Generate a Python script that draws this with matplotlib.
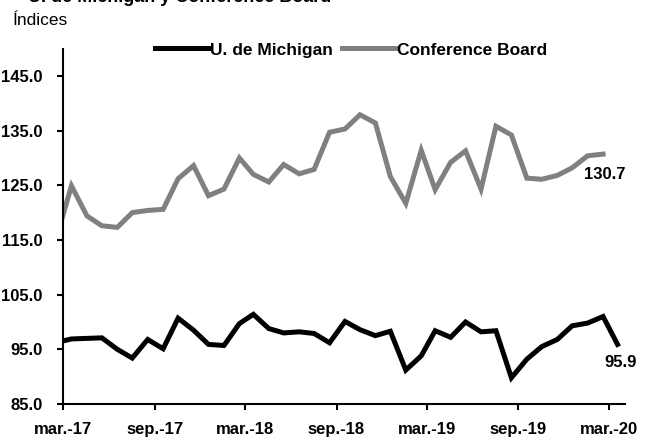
import matplotlib
matplotlib.use('Agg')
import matplotlib.pyplot as plt
import matplotlib.dates as mdates
import numpy as np
import pandas as pd

plt.rcParams['font.family'] = ['Liberation Sans', 'DejaVu Sans']

# Monthly data, feb-17 .. mar-20 (Conference Board ends feb-20)
months = pd.date_range('2017-02-01', '2020-03-01', freq='MS')
michigan = [96.3, 96.9, 97.0, 97.1, 95.0, 93.4, 96.8, 95.1, 100.7, 98.5, 95.9,
            95.7, 99.7, 101.4, 98.8, 98.0, 98.2, 97.9, 96.2, 100.1, 98.6, 97.5, 98.3,
            91.2, 93.8, 98.4, 97.2, 100.0, 98.2, 98.4, 89.8, 93.2, 95.5, 96.8, 99.3,
            99.8, 101.0, 95.9]
conference = [116.1, 124.9, 119.4, 117.6, 117.3, 120.0, 120.4, 120.6, 126.2, 128.6, 123.1,
              124.3, 130.0, 127.0, 125.6, 128.8, 127.1, 127.9, 134.7, 135.3, 137.9, 136.4, 126.6,
              121.7, 131.4, 124.2, 129.2, 131.3, 124.3, 135.8, 134.2, 126.3, 126.1, 126.8, 128.2,
              130.4, 130.7]
tick_dates = pd.date_range('2017-03-01', '2020-03-01', freq='6MS')
tick_labels = ['mar.-17', 'sep.-17', 'mar.-18', 'sep.-18', 'mar.-19', 'sep.-19', 'mar.-20']
yticks = [85, 95, 105, 115, 125, 135, 145]

# points sit mid-month, ticks at month start
x = months + pd.Timedelta(days=17)

fig = plt.figure(figsize=(6.61, 4.40), dpi=100, facecolor='white')
ax = fig.add_axes([63/661, 1-404/440, (625-63)/661, (404-48.6)/440])

ax.plot(x, michigan, color='black', lw=3.6, label='U. de Michigan', solid_joinstyle='miter')
ax.plot(x[:len(conference)], conference, color='#808080', lw=3.6,
        label='Conference Board', solid_joinstyle='miter')

ax.set_xlim(pd.Timestamp('2017-03-01'), pd.Timestamp('2020-04-02'))
ax.set_ylim(85, 150)
ax.set_yticks(yticks)
ax.set_yticklabels([f'{v:.1f}' for v in yticks])
ax.set_xticks(tick_dates)
ax.set_xticklabels(tick_labels)

for s in ['top', 'right']:
    ax.spines[s].set_visible(False)
for s in ['left', 'bottom']:
    ax.spines[s].set_linewidth(1.5)
ax.tick_params(axis='both', direction='out', length=4, width=1.5, labelsize=12)
ax.tick_params(axis='y', pad=10.5)
ax.tick_params(axis='x', pad=9)
for lab in ax.get_xticklabels() + ax.get_yticklabels():
    lab.set_fontweight('bold')

# end labels
ax.annotate(f'{conference[-1]:.1f}', xy=(x[len(conference)-1], conference[-1]),
            xytext=(1, -15), textcoords='offset points', ha='center', va='center',
            fontsize=12, fontweight='bold')
ax.annotate(f'{michigan[-1]:.1f}', xy=(x[-1], michigan[-1]),
            xytext=(2, -13), textcoords='offset points', ha='center', va='center',
            fontsize=12, fontweight='bold')

leg = fig.legend(loc='center', bbox_to_anchor=(351/661, 1-50/440), ncol=2, frameon=False,
                 handlelength=3.1, handletextpad=0.1, columnspacing=0.5,
                 prop={'weight': 'bold', 'size': 12.5})

fig.text(13/661, 1-25/440, 'Índices', fontsize=12.5, va='baseline', ha='left')
fig.text(28/661, 1-2/440, 'U. de Michigan y Conference Board', fontsize=13,
         fontweight='bold', va='baseline', ha='left')

fig.savefig('out.png', dpi=100, facecolor='white')
